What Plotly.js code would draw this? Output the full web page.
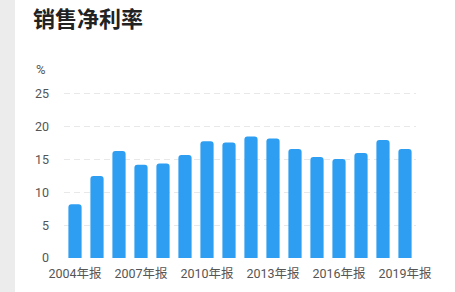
<!DOCTYPE html>
<html>
<head>
<meta charset="utf-8">
<script src="https://cdn.plot.ly/plotly-3.0.1.min.js"></script>
<style>html,body{margin:0;padding:0;background:#fff;}#chart{width:455px;height:292px;}</style>
</head>
<body>
<div id="chart"></div>
<script>
const categories = ["2004年报","2005年报","2006年报","2007年报","2008年报","2009年报","2010年报","2011年报","2012年报","2013年报","2014年报","2015年报","2016年报","2017年报","2018年报","2019年报"];
const netMargin = [8.2, 12.5, 16.3, 14.2, 14.4, 15.7, 17.8, 17.6, 18.5, 18.2, 16.6, 15.4, 15.1, 16.0, 18.0, 16.6];
const xTickLabels = ["2004年报","2007年报","2010年报","2013年报","2016年报","2019年报"];
const yTicks = [0, 5, 10, 15, 20, 25];

const W = 455, H = 292, L = 64, R = 39, T = 92, B = 34;
const pw = W - L - R, ph = H - T - B;
const font = "Roboto, 'Noto Sans CJK SC', sans-serif";

const data = [{
  type: 'bar',
  x: categories,
  y: netMargin,
  marker: {color: '#2d9ef2', cornerradius: 3},
  hoverinfo: 'none'
}];

const layout = {
  width: W, height: H,
  margin: {l: L, r: R, t: T, b: B},
  paper_bgcolor: 'rgba(0,0,0,0)',
  plot_bgcolor: 'rgba(0,0,0,0)',
  showlegend: false,
  bargap: 0.4,
  title: {
    text: '<b>销售净利率</b>',
    font: {family: "'Noto Sans CJK SC', sans-serif", size: 22, color: '#222'},
    xref: 'container', x: 33 / W, xanchor: 'left',
    yref: 'container', y: 1 - 19 / H, yanchor: 'middle'
  },
  xaxis: {
    type: 'category',
    tickmode: 'array',
    tickvals: xTickLabels,
    ticktext: xTickLabels,
    showgrid: false, zeroline: false, showline: false,
    ticks: '', ticklabelstandoff: 6,
    tickfont: {family: font, size: 12.5, color: '#555'}
  },
  yaxis: {
    range: [0, 25.3],
    tickmode: 'array',
    tickvals: yTicks,
    showgrid: true, gridcolor: '#e8e8e8', griddash: '6px,4px', gridwidth: 1,
    zeroline: false, showline: false,
    ticks: '', ticklabelstandoff: 14,
    tickfont: {family: font, size: 12.5, color: '#555'}
  },
  shapes: [{
    type: 'rect', xref: 'paper', yref: 'paper',
    x0: -L / pw, x1: (15 - L) / pw,
    y0: -B / ph, y1: (ph + T) / ph,
    fillcolor: '#ececec', line: {width: 0}, layer: 'below'
  }],
  annotations: [{
    text: '%', xref: 'paper', yref: 'paper',
    x: (41 - L) / pw, y: (258 - 69) / ph,
    xanchor: 'center', yanchor: 'middle', showarrow: false,
    font: {family: font, size: 13, color: '#555'}
  }]
};

Plotly.newPlot('chart', data, layout, {displayModeBar: false, staticPlot: true});
</script>
</body>
</html>
